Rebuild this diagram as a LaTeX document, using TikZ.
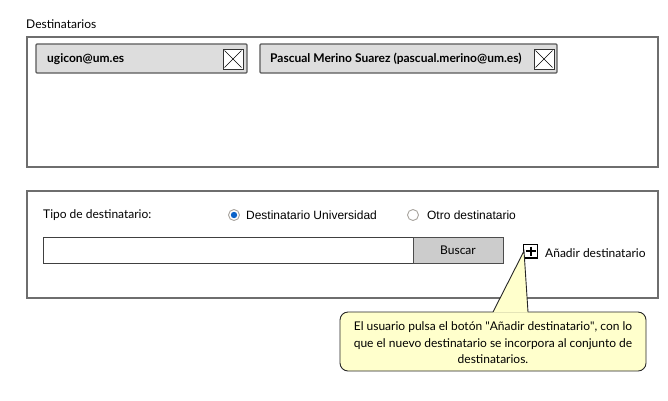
\documentclass[tikz,border=0pt]{standalone}
\usepackage{fontspec}
\setmainfont{Lato}
\newfontfamily\arialfont{Liberation Sans}
\usetikzlibrary{positioning}
\definecolor{framegray}{HTML}{6E6E6E}
\definecolor{chipgray}{HTML}{DDDDDD}
\definecolor{btngray}{HTML}{CCCCCC}
\definecolor{notefill}{HTML}{FFFFCC}
\definecolor{radioblue}{HTML}{0A62C8}
\definecolor{radiogray}{HTML}{A8A49E}
\tikzset{
	frame/.style={draw=framegray, line width=1.6pt},
	chip/.style={draw=black!65, fill=chipgray, line width=1.3pt, rounded corners=1pt},
	closebox/.style={draw=black!80, fill=white, line width=0.7pt},
	lbl/.style={anchor=west, inner sep=0pt, font=\fontsize{12}{14}\selectfont},
	boldlbl/.style={lbl, font=\fontsize{12}{14}\selectfont\bfseries},
	arlbl/.style={lbl, font=\fontsize{12}{14}\selectfont\arialfont},
	radio/.style={circle, draw=radiogray, fill=white, line width=0.9pt, minimum size=11pt, inner sep=0pt},
}
\begin{document}
\begin{tikzpicture}[x=1pt, y=-1pt]
		%%%%% START %%%%%
		\useasboundingbox (0,0) rectangle (668,400);
		
		% destinatarios
		\node[lbl] (destlbl) at (26,24) {Destinatarios};
		\draw[frame, fill=white] (27,37) rectangle (658,167);
		
		\draw[chip] (36,44) rectangle (247,73);
		\node[boldlbl] (chipA) at (47,59) {ugicon@um.es};
		\draw[closebox] (223,49) rectangle (243,69);
		\draw[line width=0.5pt] (224.5,50.5) -- (241.5,67.5) (241.5,50.5) -- (224.5,67.5);
		
		\draw[chip] (260,44) rectangle (557,73);
		\node[boldlbl] (chipB) at (270,59) {Pascual Merino Suarez (pascual.merino@um.es)};
		\draw[closebox] (534,49) rectangle (554,69);
		\draw[line width=0.5pt] (535.5,50.5) -- (552.5,67.5) (552.5,50.5) -- (535.5,67.5);
		
		% busqueda
		\draw[frame, fill=white] (27,191) rectangle (658,298);
		\node[lbl] (tipo) at (43,215) {Tipo de destinatario:};
		
		\node[radio] (radA) at (234,215) {};
		\fill[radioblue] (radA) circle (3.2);
		\node[arlbl, right=6pt of radA] (radAlbl) {Destinatario Universidad};
		\node[radio] (radB) at (413,215) {};
		\node[arlbl, right=8pt of radB] (radBlbl) {Otro destinatario};
		
		\draw[draw=black!75, fill=white, line width=1pt] (43,237) rectangle (413,263);
		\draw[draw=black!70, fill=btngray, line width=1pt] (413,237) rectangle (503,263);
		\node[font=\fontsize{12}{14}\selectfont] (buscar) at (458,250) {Buscar};
		
		\draw[fill=white, line width=1.6pt] (523.5,244.5) rectangle (537.5,258);
		\draw[line width=2pt] (525.5,251.2) -- (535.5,251.2) (530.5,246.5) -- (530.5,256);
		\node[lbl] (anadir) at (545,253) {Añadir destinatario};
		
		% nota
		\draw[draw=black!85, fill=notefill, line width=0.9pt, rounded corners=8pt] (340,312) rectangle (646,371);
		\fill[notefill] (493,312.6) -- (524,251) -- (528,312.6) -- cycle;
		\draw[black!85, line width=0.9pt] (493,312) -- (524,251) -- (528,312);
		\node[align=center, font=\fontsize{12}{16.5}\selectfont, inner sep=0pt] (nota) at (493,343)
			{El usuario pulsa el botón \textquotedbl Añadir destinatario\textquotedbl, con lo\\que el nuevo destinatario se incorpora al conjunto de\\destinatarios.};
		%%%%% END %%%%%
	\end{tikzpicture}
\end{document}
